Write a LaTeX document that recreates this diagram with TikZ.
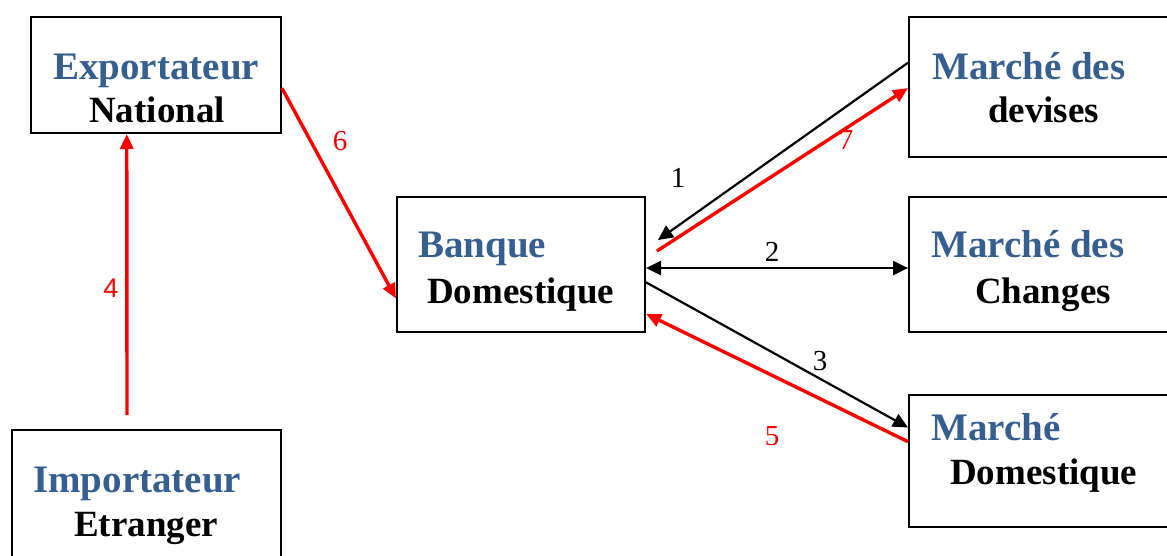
\documentclass[tikz,border=0pt]{standalone}
\usepackage{fontspec}
\setmainfont{Liberation Serif}
\newfontfamily\numsans{Liberation Sans}
\usetikzlibrary{arrows.meta,calc}
\definecolor{hblue}{RGB}{54,95,145}
\definecolor{hred}{RGB}{255,0,0}
\tikzset{
  box/.style={draw=black,line width=2pt,rectangle,inner sep=0pt},
  bluetxt/.style={anchor=base west,inner sep=0pt,text=hblue,font=\fontsize{39}{44}\selectfont\bfseries},
  blacktxt/.style={anchor=base west,inner sep=0pt,text=black,font=\fontsize{37}{44}\selectfont\bfseries},
  blackarrow/.style={draw=black,line width=2.2pt,-{Triangle[length=15pt,width=14pt]}},
  redarrow/.style={draw=hred,line width=3.4pt,-{Triangle[length=15pt,width=13pt]}},
  numlbl/.style={inner sep=0pt,font=\fontsize{29}{32}\selectfont},
}
\begin{document}
\begin{tikzpicture}[x=1pt,y=-1pt]
\useasboundingbox (0,0) rectangle (1167,556);
\clip (0,0) rectangle (1167,556);
% boxes
\node[box,minimum width=250pt,minimum height=116pt] (exp) at (156,75) {};
\node[box,minimum width=269pt,minimum height=160pt] (imp) at (146.5,510) {};
\node[box,minimum width=248pt,minimum height=135pt] (ban) at (521,264.5) {};
\node[box,minimum width=281pt,minimum height=140pt] (dev) at (1049.5,87) {};
\node[box,minimum width=281pt,minimum height=135pt] (chg) at (1049.5,264.5) {};
\node[box,minimum width=281pt,minimum height=132pt] (dom) at (1049.5,461) {};
% texts
\node[bluetxt] (t1a) at (53,80) {Exportateur};
\node[blacktxt] (t1b) at (89,123) {National};
\node[bluetxt] (t2a) at (33,492) {Importateur};
\node[blacktxt] (t2b) at (74,536) {Etranger};
\node[bluetxt] (t3a) at (418,258) {Banque};
\node[blacktxt] (t3b) at (427,303) {Domestique};
\node[bluetxt] (t4a) at (932,80) {Marché des};
\node[blacktxt] (t4b) at (988,123) {devises};
\node[bluetxt] (t5a) at (931,258) {Marché des};
\node[blacktxt] (t5b) at (975,303) {Changes};
\node[bluetxt] (t6a) at (931,440) {Marché};
\node[blacktxt] (t6b) at (950,484) {Domestique};
% labels
\node[numlbl,text=black] (l1) at (678,178) {1};
\node[numlbl,text=black] (l2) at (772,252) {2};
\node[numlbl,text=black] (l3) at (820,361) {3};
\node[inner sep=0pt,text=hred,font=\numsans\fontsize{27}{30}\selectfont] (l4) at (111,288) {4};
\node[numlbl,text=hred] (l5) at (772,436) {5};
\node[numlbl,text=hred] (l6) at (340,141) {6};
\node[numlbl,text=hred] (l7) at (846,140) {7};
% free ends
\coordinate (a1e) at (658,240);
\coordinate (a7s) at (657,251);
\coordinate (a4s) at (127,415);
% connectors
\draw[redarrow] (a4s) -- ($(exp.south west)!0.384!(exp.south east)$);
\draw[redarrow] ($(exp.north east)!0.612!(exp.south east)$) -- ($(ban.north west)!0.748!(ban.south west)$);
\draw[blackarrow] ($(dev.north west)!0.329!(dev.south west)$) -- (a1e);
\draw[redarrow] (a7s) -- ($(dev.north west)!0.507!(dev.south west)$);
\draw[blackarrow,{Triangle[length=15pt,width=14pt]}-{Triangle[length=15pt,width=14pt]}] ($(ban.north east)!0.526!(ban.south east)$) -- ($(chg.north west)!0.526!(chg.south west)$);
\draw[blackarrow] ($(ban.north east)!0.63!(ban.south east)$) -- ($(dom.north west)!0.25!(dom.south west)$);
\draw[redarrow] ($(dom.north west)!0.356!(dom.south west)$) -- ($(ban.north east)!0.86!(ban.south east)$);
\end{tikzpicture}
\end{document}
